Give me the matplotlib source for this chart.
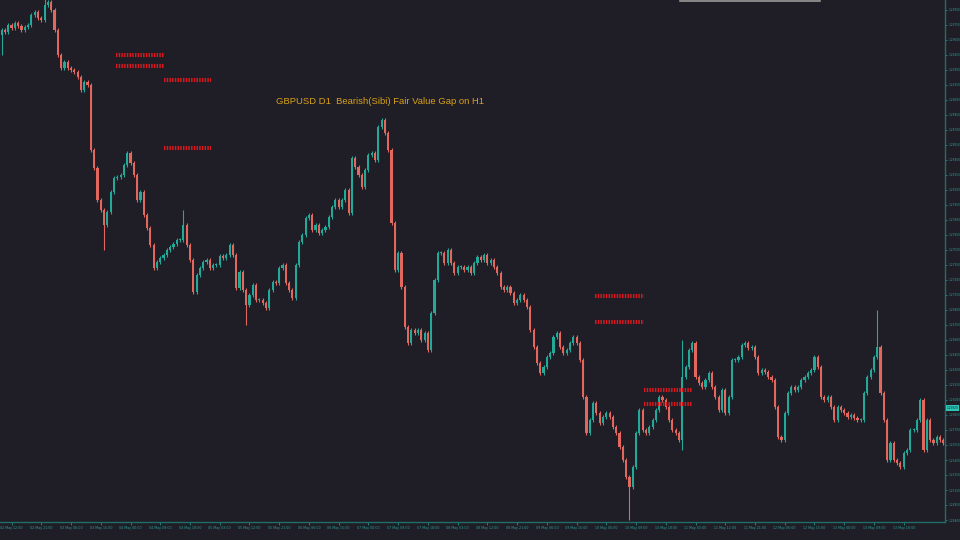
import numpy as np
import pandas as pd
import matplotlib
matplotlib.use("Agg")
import matplotlib.pyplot as plt

# clôtures (GBPUSD H1)
closes = [
    1.2970, 1.2968, 1.2975, 1.2972, 1.2977, 1.2974, 1.2970, 1.2973, 1.2975, 1.2985,
    1.2988, 1.2982, 1.2980, 1.2995, 1.2998, 1.2990, 1.2970, 1.2945, 1.2932, 1.2938,
    1.2932, 1.2930, 1.2928, 1.2923, 1.2910, 1.2918, 1.2915, 1.2850, 1.2832, 1.2800,
    1.2790, 1.2775, 1.2788, 1.2808, 1.2822, 1.2823, 1.2825, 1.2835, 1.2847, 1.2837,
    1.2825, 1.2800, 1.2808, 1.2785, 1.2772, 1.2755, 1.2732, 1.2738, 1.2742, 1.2745,
    1.2750, 1.2753, 1.2756, 1.2760, 1.2760, 1.2775, 1.2755, 1.2740, 1.2708, 1.2725,
    1.2732, 1.2738, 1.2740, 1.2732, 1.2735, 1.2735, 1.2744, 1.2742, 1.2745, 1.2755,
    1.2745, 1.2712, 1.2728, 1.2710, 1.2695, 1.2705, 1.2715, 1.2700, 1.2700, 1.2697,
    1.2692, 1.2710, 1.2718, 1.2717, 1.2732, 1.2735, 1.2717, 1.2710, 1.2702, 1.2735,
    1.2758, 1.2765, 1.2782, 1.2785, 1.2770, 1.2775,
    1.2767, 1.2770, 1.2773, 1.2783, 1.2793, 1.2800, 1.2793, 1.2800, 1.2810, 1.2787,
    1.2842, 1.2833, 1.2825, 1.2813, 1.2830, 1.2845, 1.2847, 1.2840, 1.2873, 1.2880,
    1.2867, 1.2850, 1.2777, 1.2730, 1.2747, 1.2713, 1.2673, 1.2657, 1.2670, 1.2667,
    1.2670, 1.2660, 1.2667, 1.2650, 1.2687, 1.2720, 1.2747, 1.2747, 1.2737, 1.2750,
    1.2737, 1.2727, 1.2733, 1.2733, 1.2730, 1.2733, 1.2727, 1.2737, 1.2743, 1.2740,
    1.2745, 1.2737, 1.2740, 1.2733, 1.2727, 1.2713, 1.2710, 1.2713, 1.2707, 1.2697,
    1.2700, 1.2705, 1.2700, 1.2693, 1.2670, 1.2653, 1.2637, 1.2627, 1.2633, 1.2643,
    1.2647, 1.2663, 1.2667, 1.2653, 1.2647, 1.2650, 1.2657, 1.2663, 1.2657, 1.2640,
    1.2603, 1.2567, 1.2580, 1.2597, 1.2587, 1.2577, 1.2583, 1.2587, 1.2583, 1.2573,
    1.2567, 1.2553, 1.2540, 1.2523, 1.2513, 1.2533, 1.2567, 1.2590,
    1.2570, 1.2567, 1.2573, 1.2580, 1.2590, 1.2603, 1.2600, 1.2593, 1.2580, 1.2570,
    1.2567, 1.2560, 1.2623, 1.2633, 1.2650, 1.2657, 1.2623, 1.2617, 1.2613, 1.2620,
    1.2627, 1.2613, 1.2603, 1.2590, 1.2610, 1.2587, 1.2603, 1.2640, 1.2640, 1.2643,
    1.2655, 1.2657, 1.2652, 1.2653, 1.2643, 1.2627, 1.2630, 1.2628, 1.2623, 1.2620,
    1.2593, 1.2563, 1.2560, 1.2587, 1.2607, 1.2613, 1.2610, 1.2613, 1.2620, 1.2623,
    1.2627, 1.2630, 1.2643, 1.2633, 1.2603, 1.2600, 1.2603, 1.2593, 1.2580, 1.2593,
    1.2590, 1.2587, 1.2583, 1.2585, 1.2582, 1.2580, 1.2580, 1.2607, 1.2623, 1.2630,
    1.2643, 1.2653, 1.2607, 1.2580, 1.2540, 1.2557, 1.2540, 1.2537, 1.2533, 1.2547,
    1.2550, 1.2570, 1.2570, 1.2580, 1.2600, 1.2550, 1.2580, 1.2560, 1.2557, 1.2563,
    1.2560, 1.2557,
]
first_open = 1.2965

# mèches marquantes (index de bougie -> prix)
high_spikes = {13: 1.3005, 55: 1.2790, 115: 1.2882, 206: 1.2660, 265: 1.2690}
low_spikes = {0: 1.2945, 31: 1.2750, 74: 1.2675, 190: 1.2480, 206: 1.2550}

# zones Fair Value Gap (début, fin en bougies, niveau de prix)
fvg_start = [34.5, 34.5, 49, 49, 179.5, 179.5, 194.5, 194.5]
fvg_end = [49, 49, 63.5, 63.5, 194.5, 194.5, 209, 209]
fvg_price = [1.2945, 1.2934, 1.2920, 1.2852, 1.2704, 1.2678, 1.2610, 1.2596]

last_price = 1.2592
title = "GBPUSD D1  Bearish(Sibi) Fair Value Gap on H1"

bg = "#1f1d25"
bull = "#22a999"
bear = "#e2675e"
axis_col = "#2aa39a"

n = len(closes)
x = np.arange(n)
opens = np.array([first_open] + closes[:-1])
closes = np.array(closes)
highs = np.maximum(opens, closes) + 0.0002
lows = np.minimum(opens, closes) - 0.0002
for k, v in high_spikes.items():
    highs[k] = max(highs[k], v)
for k, v in low_spikes.items():
    lows[k] = min(lows[k], v)

fig = plt.figure(figsize=(9.6, 5.4), dpi=100, facecolor=bg)
ax = fig.add_axes([0, 18 / 540, 945 / 960, 522 / 540])
ax.set_facecolor(bg)

colors = np.where(closes >= opens, bull, bear)
ax.vlines(x, lows, highs, colors=colors, linewidth=0.8)
body_h = np.abs(closes - opens)
body_h = np.maximum(body_h, 0.00008)
ax.bar(x, body_h, bottom=np.minimum(opens, closes), width=0.65,
       color=colors, linewidth=0)

# lignes FVG en pointillé rouge
for s, e, p in zip(fvg_start, fvg_end, fvg_price):
    ax.plot([s, e], [p, p], color="#dc181e", linewidth=3,
            linestyle=(0, (0.35, 0.3)), solid_capstyle="butt")

ax.set_xlim(-0.5, n - 0.5)
ax.set_ylim(1.2478, 1.3000)

# axe des prix à droite
ax.yaxis.tick_right()
yt = np.arange(1.2480, 1.3000, 0.0015)
ax.set_yticks(yt)
ax.set_yticklabels([f"{v:.5f}" for v in yt], fontsize=2.1, color=axis_col)
ax.tick_params(axis="y", length=1.5, width=0.5, color=axis_col, pad=0.8)

# axe du temps
dates = pd.date_range("2024-05-02 09:00", periods=n, freq="h")
xt = np.arange(3, n - 4, 9)
ax.set_xticks(xt)
ax.set_xticklabels([dates[i].strftime("%d %b %H:%M") for i in xt],
                   fontsize=2.3, color=axis_col)
ax.tick_params(axis="x", length=2, width=0.5, color=axis_col, pad=1)

for side in ["top", "left"]:
    ax.spines[side].set_visible(False)
for side in ["right", "bottom"]:
    ax.spines[side].set_color("#1f6e68")
    ax.spines[side].set_linewidth(1)

# étiquette du prix courant
ax.text(1.002, last_price, f"{last_price:.5f}", transform=ax.get_yaxis_transform(),
        fontsize=2.1, color="#0d1f1e", va="center", ha="left",
        bbox=dict(boxstyle="square,pad=0.2", fc="#2ec4b6", ec="none"))

# petite barre grise en haut
fig.add_artist(plt.Line2D([680 / 960, 820 / 960], [0.999, 0.999],
                          color="#9a9a9a", linewidth=1.2))

fig.text(380 / 960, 1 - 102 / 540, title, color="#d9a21b", fontsize=6.8,
         ha="center", va="center",
         family=["Liberation Sans Narrow", "Liberation Sans", "DejaVu Sans"])

fig.savefig("out.png", dpi=100, facecolor=bg)
